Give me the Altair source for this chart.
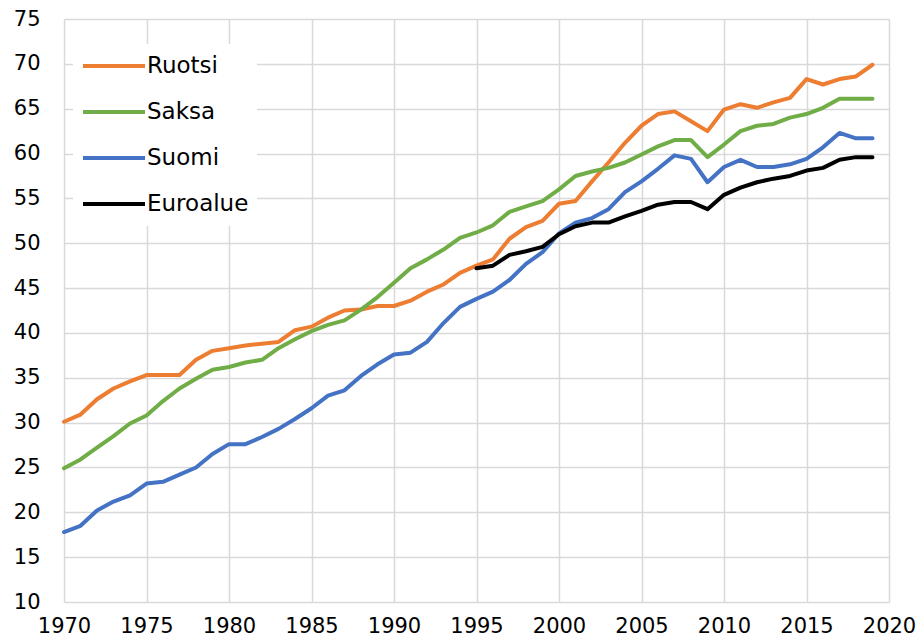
import altair as alt
import pandas as pd

years = list(range(1970, 2020))
ruotsi = [30.1, 30.9, 32.6, 33.8, 34.6, 35.3, 35.3, 35.3, 37.0, 38.0,
          38.3, 38.6, 38.8, 39.0, 40.3, 40.7, 41.7, 42.5, 42.6, 43.0,
          43.0, 43.6, 44.6, 45.4, 46.7, 47.5, 48.2, 50.5, 51.8, 52.5,
          54.4, 54.7, 56.9, 59.0, 61.2, 63.1, 64.4, 64.7, 63.6, 62.5,
          64.9, 65.5, 65.1, 65.7, 66.2, 68.3, 67.7, 68.3, 68.6, 69.9]
saksa = [24.9, 25.9, 27.2, 28.5, 29.9, 30.8, 32.4, 33.8, 34.9, 35.9,
         36.2, 36.7, 37.0, 38.3, 39.3, 40.2, 40.9, 41.4, 42.6, 44.0,
         45.6, 47.2, 48.2, 49.3, 50.6, 51.2, 52.0, 53.5, 54.1, 54.7,
         56.0, 57.5, 58.0, 58.4, 59.0, 59.9, 60.8, 61.5, 61.5, 59.6,
         61.0, 62.5, 63.1, 63.3, 64.0, 64.4, 65.1, 66.1, 66.1, 66.1]
suomi = [17.8, 18.5, 20.2, 21.2, 21.9, 23.2, 23.4, 24.2, 25.0, 26.5,
         27.6, 27.6, 28.4, 29.3, 30.4, 31.6, 33.0, 33.6, 35.2, 36.5,
         37.6, 37.8, 39.0, 41.1, 42.9, 43.8, 44.6, 45.9, 47.7, 49.0,
         51.1, 52.3, 52.8, 53.8, 55.7, 56.9, 58.3, 59.8, 59.4, 56.8,
         58.5, 59.3, 58.5, 58.5, 58.8, 59.4, 60.7, 62.3, 61.7, 61.7]
euro_years = list(range(1995, 2020))
euroalue = [47.2, 47.5, 48.7, 49.1, 49.6, 51.0, 51.9, 52.3, 52.3, 53.0,
            53.6, 54.3, 54.6, 54.6, 53.8, 55.4, 56.2, 56.8, 57.2, 57.5,
            58.1, 58.4, 59.3, 59.6, 59.6]

series_names = ["Ruotsi", "Saksa", "Suomi", "Euroalue"]
series_colors = ["#ED7D31", "#70AD47", "#4472C4", "#000000"]
x_ticks = list(range(1970, 2021, 5))
y_ticks = list(range(10, 76, 5))

rows = []
for name, xs, ys in [("Ruotsi", years, ruotsi), ("Saksa", years, saksa),
                     ("Suomi", years, suomi), ("Euroalue", euro_years, euroalue)]:
    for x, y in zip(xs, ys):
        rows.append({"vuosi": x, "arvo": y, "sarja": name})
df = pd.DataFrame(rows)

FONT = "DejaVu Sans"

chart = alt.Chart(df).mark_line(
    strokeWidth=4, strokeCap="round", strokeJoin="round"
).encode(
    x=alt.X("vuosi:Q",
            scale=alt.Scale(domain=[1970, 2020], nice=False, zero=False),
            axis=alt.Axis(values=x_ticks, format="d", title=None,
                          labelPadding=13, labelFlush=False,
                          labelOverlap=False, labelBound=False)),
    y=alt.Y("arvo:Q",
            scale=alt.Scale(domain=[10, 75], nice=False, zero=False),
            axis=alt.Axis(values=y_ticks, title=None, labelPadding=24,
                          labelFlush=False, labelOverlap=False)),
    color=alt.Color("sarja:N",
                    scale=alt.Scale(domain=series_names, range=series_colors),
                    legend=alt.Legend(title=None, orient="none",
                                      legendX=9, legendY=25,
                                      symbolType="stroke", symbolSize=3844,
                                      symbolStrokeWidth=4, clipHeight=28,
                                      rowPadding=18, labelFont=FONT,
                                      labelFontSize=23, labelColor="#000000",
                                      labelOffset=0, fillColor="white",
                                      padding=8)),
).properties(
    width=825, height=583,
    autosize=alt.AutoSizeParams(type="none"),
    padding={"left": 56, "top": 11, "right": 27, "bottom": 34},
).configure_axis(
    grid=True, gridColor="#d9d9d9", gridWidth=1.5, domain=False, ticks=False,
    labelFont=FONT, labelFontSize=21, labelColor="#000000",
).configure_view(stroke=None)

chart.save("out.html", embed_options={"renderer": "svg", "actions": False})
